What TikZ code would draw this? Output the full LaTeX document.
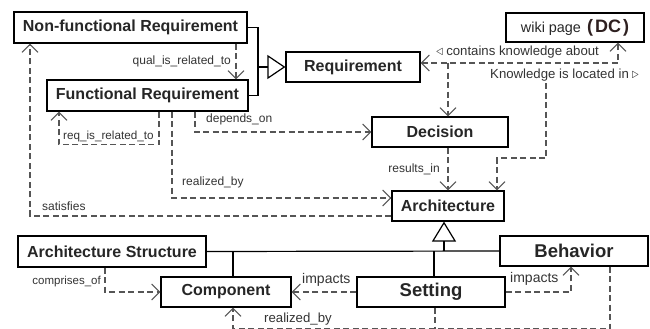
\documentclass[tikz,border=0pt]{standalone}
\usepackage{fontspec}
\setmainfont{Liberation Sans}
\usetikzlibrary{arrows.meta}
\definecolor{lineg}{HTML}{555555}
\definecolor{txtg}{HTML}{333333}
\definecolor{dcbrown}{HTML}{2E2020}
\begin{document}
\begin{tikzpicture}[x=1pt,y=-1pt,
  box/.style={draw=black, line width=1.2pt, inner sep=0pt, text=black!85,
    font=\fontsize{16}{18}\selectfont\bfseries},
  bigbox/.style={box, font=\fontsize{18.5}{20}\selectfont\bfseries},
  conn/.style={draw=lineg, line width=1.3pt, dash pattern=on 6pt off 3.5pt,
    -{Straight Barb[length=8pt,width=16pt,line width=1pt]}},
  plainconn/.style={draw=lineg, line width=1.3pt, dash pattern=on 6pt off 3.5pt},
  gen/.style={draw=black, line width=1.2pt},
  lbl/.style={inner sep=0pt, text=txtg, font=\fontsize{12}{14}\selectfont},
  lblb/.style={inner sep=0pt, text=txtg, font=\fontsize{13.2}{15}\selectfont},
  lblc/.style={inner sep=0pt, text=txtg, font=\fontsize{14}{16}\selectfont}]
\useasboundingbox (0,0) rectangle (650,329);
% boxes
\node[box, minimum width=233pt, minimum height=31pt] (nfr) at (130.5,27.5) {Non-functional Requirement};
\node[box, minimum width=201pt, minimum height=31pt] (fr) at (147.5,95.5) {Functional Requirement};
\node[box, minimum width=134pt, minimum height=30pt] (req) at (353,67) {Requirement};
\node[box, minimum width=138pt, minimum height=29pt, font=\fontsize{14.4}{16}\selectfont] (wiki) at (575,27.5) {wiki page\kern6pt{\color{dcbrown}\fontsize{18}{18}\selectfont\bfseries(\kern2pt DC\kern2pt)}};
\node[box, minimum width=136pt, minimum height=30pt] (dec) at (440,132) {Decision};
\node[box, minimum width=112pt, minimum height=30pt] (arch) at (448,206) {Architecture};
\node[box, minimum width=188pt, minimum height=31pt] (as) at (112,251.5) {Architecture Structure};
\node[box, minimum width=130pt, minimum height=30pt] (comp) at (226,292) {Component};
\node[bigbox, minimum width=148pt, minimum height=30pt] (set) at (431,292) {Setting};
\node[bigbox, minimum width=148pt, minimum height=30pt] (beh) at (574,251) {Behavior};
% generalization to Requirement
\coordinate (j1) at (258,67);
\draw[gen] (nfr.east) -| (j1);
\draw[gen] (fr.east) -| (j1);
\draw[gen, -{Triangle[open, length=18pt, width=24pt, line width=1.2pt]}] (j1) -- (req.west);
% generalization to Architecture
\coordinate (j2) at (444,251);
\draw[gen] (as.east) -- (beh.west);
\draw[gen, -{Triangle[open, length=20pt, width=24pt, line width=1.2pt]}] (j2) -- (j2 |- arch.south);
\draw[gen] ([xshift=7pt]comp.north) -- ([xshift=7pt]comp.north |- j2);
\draw[gen] ([xshift=3pt]set.north) -- ([xshift=3pt]set.north |- j2);
% dashed connectors
\draw[conn] ([xshift=105.5pt]nfr.south) -- ([xshift=88.5pt]fr.north);
\draw[conn] ([xshift=11.5pt]fr.south) -- ++(0,33) -| ([xshift=-88.5pt]fr.south);
\draw[conn] ([yshift=-10pt]arch.west) -| ([xshift=-100.5pt]nfr.south);
\draw[conn] ([xshift=24.5pt]fr.south) |- ([yshift=8pt]arch.west);
\draw[conn] ([xshift=47.5pt]fr.south) |- (dec.west);
\draw[conn, {Straight Barb[length=8pt,width=16pt,line width=1pt]}-{Straight Barb[length=8pt,width=16pt,line width=1pt]}] ([yshift=4pt]req.east) -| ([xshift=43pt]wiki.south);
\coordinate (c1) at (448,63);
\draw[conn] (c1) -- (c1 |- dec.north);
\coordinate (k1) at (546,83);
\draw[conn] (k1) -- ++(0,75) -| ([xshift=49pt]arch.north);
\draw[conn] ([xshift=8pt]dec.south) -- (arch.north);
\draw[conn] ([xshift=-7pt]as.south) |- (comp.west);
\draw[conn] (set.west) -- (comp.east);
\draw[conn] (set.east) -| ([xshift=-3pt]beh.south);
\draw[conn] ([xshift=36pt]beh.south) -- ++(0,62) -| ([xshift=7pt]comp.south);
\draw[plainconn] ([xshift=4pt]set.south) -- ++(0,21);
% labels
\node[lbl, anchor=east] (l1) at (231,61) {qual\_is\_related\_to};
\node[lbl, font=\fontsize{11.7}{14}\selectfont, anchor=west] (l2) at (63,136) {req\_is\_related\_to};
\node[lbl, anchor=west] (l3) at (206,119) {depends\_on};
\node[lbl, anchor=west] (l4) at (182,182) {realized\_by};
\node[lbl, anchor=west] (l5) at (42,206) {satisfies};
\node[lbl, anchor=east] (l6) at (440,169) {results\_in};
\node[lblb, anchor=west] (l7) at (436,52) {{\fontsize{14}{14}\selectfont$\triangleleft$}\kern3pt contains knowledge about};
\node[lblb, anchor=west] (l8) at (490,75) {Knowledge is located in\kern3pt{\fontsize{14}{14}\selectfont$\triangleright$}};
\node[lbl, font=\fontsize{11.5}{14}\selectfont, anchor=east] (l9) at (101,282) {comprises\_of};
\node[lblc, anchor=west] (l10) at (302,280) {impacts};
\node[lblc, anchor=west] (l11) at (510,279) {impacts};
\node[lblb, anchor=west] (l12) at (264,319) {realized\_by};
\end{tikzpicture}
\end{document}
